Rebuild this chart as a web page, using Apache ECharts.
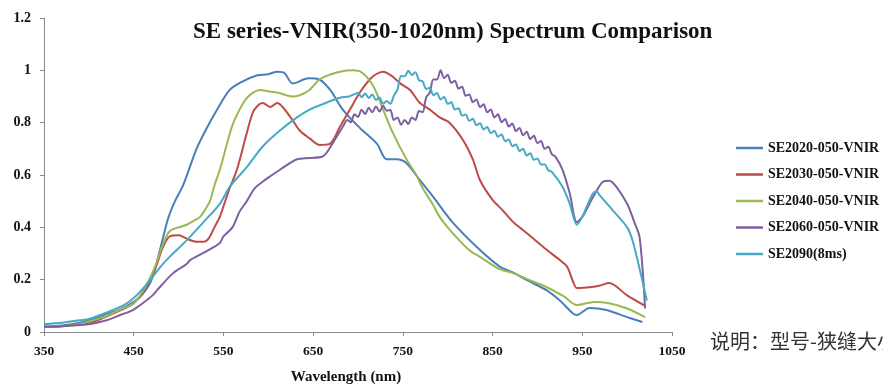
<!DOCTYPE html>
<html>
<head>
<meta charset="utf-8">
<script src="https://cdn.jsdelivr.net/npm/echarts@6/dist/echarts.min.js"></script>
<style>html,body{margin:0;padding:0;background:#fff;}#c{width:883px;height:385px;}</style>
</head>
<body>
<div id="c"></div>
<script>
const titleText = 'SE series-VNIR(350-1020nm) Spectrum Comparison';
const seriesNames = ['SE2020-050-VNIR','SE2030-050-VNIR','SE2040-050-VNIR','SE2060-050-VNIR','SE2090(8ms)'];
const xTicks = [350,450,550,650,750,850,950,1050];
const yTicks = [0,0.2,0.4,0.6,0.8,1,1.2];

const se2020 = [[350,0.02],[370,0.025],[390,0.035],[400,0.045],[410,0.055],[420,0.07],[430,0.08],[440,0.095],[450,0.115],[460,0.145],[470,0.2],[479,0.31],[488,0.43],[496,0.50],[505,0.56],[520,0.70],[530,0.77],[543,0.85],[557,0.925],[570,0.955],[587,0.98],[600,0.985],[610,0.995],[618,0.99],[627,0.95],[633,0.955],[639,0.965],[646,0.97],[657,0.965],[669,0.925],[683,0.85],[702,0.78],[721,0.72],[732,0.66],[743,0.66],[754,0.645],[769,0.58],[783,0.52],[806,0.417],[836,0.313],[858,0.25],[873,0.227],[890,0.195],[910,0.16],[925,0.12],[939,0.073],[944,0.065],[958,0.092],[977,0.084],[1000,0.057],[1017,0.038]];

const se2030 = [[350,0.02],[370,0.022],[390,0.03],[400,0.035],[410,0.045],[420,0.06],[430,0.075],[440,0.09],[450,0.11],[460,0.15],[470,0.21],[476,0.26],[482,0.32],[490,0.365],[500,0.37],[510,0.355],[520,0.345],[528,0.345],[534,0.36],[540,0.40],[546,0.44],[550,0.48],[557,0.55],[565,0.62],[576,0.76],[583,0.84],[590,0.87],[594,0.875],[602,0.86],[610,0.875],[616,0.86],[627,0.81],[635,0.77],[646,0.74],[657,0.715],[669,0.72],[680,0.785],[691,0.85],[702,0.915],[713,0.965],[720,0.985],[728,0.995],[739,0.975],[747,0.95],[758,0.925],[769,0.875],[780,0.85],[791,0.82],[802,0.80],[817,0.734],[828,0.66],[836,0.58],[850,0.505],[861,0.466],[873,0.42],[880,0.40],[891,0.37],[910,0.315],[925,0.275],[933,0.25],[940,0.19],[944,0.168],[960,0.172],[970,0.178],[980,0.187],[1000,0.14],[1020,0.10]];

const se2040 = [[350,0.02],[370,0.022],[390,0.03],[400,0.04],[410,0.05],[420,0.062],[430,0.078],[440,0.092],[450,0.11],[460,0.155],[470,0.22],[476,0.27],[482,0.33],[490,0.385],[500,0.40],[509,0.41],[517,0.425],[524,0.44],[530,0.47],[535,0.50],[540,0.56],[546,0.62],[554,0.72],[560,0.79],[568,0.85],[575,0.89],[583,0.915],[591,0.925],[600,0.92],[610,0.915],[620,0.905],[627,0.90],[635,0.905],[646,0.925],[657,0.965],[670,0.985],[680,0.995],[694,1.0],[705,0.99],[717,0.94],[728,0.85],[739,0.76],[754,0.66],[765,0.60],[772,0.55],[783,0.49],[791,0.44],[800,0.40],[813,0.35],[825,0.31],[836,0.287],[858,0.24],[873,0.225],[890,0.20],[910,0.172],[930,0.135],[944,0.103],[963,0.115],[980,0.11],[1000,0.09],[1020,0.057]];

const se2060 = [[350,0.02],[360,0.02],[380,0.025],[400,0.03],[420,0.045],[435,0.065],[449,0.084],[460,0.11],[471,0.14],[476,0.16],[494,0.225],[509,0.26],[513,0.275],[532,0.31],[546,0.34],[550,0.365],[560,0.40],[568,0.46],[576,0.50],[585,0.55],[594,0.575],[600,0.59],[613,0.62],[632,0.66],[646,0.665],[660,0.67],[665,0.685],[676,0.745],[684,0.79],
[688,0.81],[692,0.802],[696,0.832],[700,0.822],[704,0.849],[708,0.833],[712,0.857],[716,0.84],[720,0.862],[724,0.843],[728,0.865],[732,0.846],[736,0.848],[740,0.81],[744,0.82],[748,0.792],[752,0.81],[756,0.795],[760,0.82],[764,0.81],[768,0.845],[772,0.84],[776,0.897],[780,0.915],[784,0.965],[788,0.965],[792,1.0],[796,0.97],[800,0.983],[804,0.952],[808,0.96],[812,0.93],[816,0.937],[820,0.903],[824,0.908],[828,0.878],[832,0.889],[836,0.86],[840,0.87],[844,0.84],[848,0.85],[852,0.82],[856,0.832],[860,0.802],[864,0.814],[868,0.785],[872,0.797],[876,0.768],[880,0.78],[884,0.752],[888,0.765],[892,0.737],[896,0.75],[900,0.722],[904,0.73],[908,0.70],[912,0.708],[916,0.68],[920,0.67],
[928,0.62],[936,0.53],[944,0.42],[950,0.44],[958,0.49],[966,0.54],[973,0.574],[980,0.578],[988,0.555],[1000,0.49],[1008,0.42],[1014,0.36],[1020,0.09]];

const se2090 = [[350,0.03],[370,0.035],[390,0.045],[400,0.05],[420,0.075],[440,0.105],[450,0.13],[460,0.165],[471,0.21],[480,0.25],[490,0.287],[509,0.35],[527,0.417],[546,0.49],[557,0.555],[576,0.63],[594,0.71],[613,0.77],[632,0.82],[646,0.85],[660,0.87],[680,0.895],[690,0.90],
[700,0.913],[704,0.897],[708,0.911],[712,0.894],[716,0.908],[720,0.887],[724,0.896],[728,0.872],[732,0.883],[736,0.872],[740,0.903],[744,0.927],[748,0.978],[752,0.977],[756,0.998],[760,0.982],[764,0.993],[768,0.962],[772,0.958],[776,0.929],[780,0.933],[784,0.905],[788,0.913],[792,0.889],[796,0.898],[800,0.872],[804,0.878],[808,0.85],[812,0.855],[816,0.827],[820,0.831],[824,0.807],[828,0.815],[832,0.79],[836,0.798],[840,0.774],[844,0.783],[848,0.76],[852,0.769],[856,0.746],[860,0.755],[864,0.729],[868,0.736],[872,0.71],[876,0.717],[880,0.692],[884,0.70],[888,0.675],[892,0.683],[896,0.658],[900,0.663],[904,0.64],[908,0.641],[912,0.618],[916,0.612],
[928,0.555],[936,0.49],[944,0.41],[950,0.44],[955,0.48],[962,0.53],[966,0.537],[970,0.52],[984,0.465],[1000,0.40],[1006,0.35],[1014,0.24],[1022,0.12]];

const seriesData = [se2020, se2030, se2040, se2060, se2090];
const colors = ['#4a7ebb','#be4b48','#98b954','#7d60a0','#46aac5'];

const serif = '"Liberation Serif", "DejaVu Serif", serif';
const chart = echarts.init(document.getElementById('c'));
chart.setOption({
  animation: false,
  backgroundColor: '#fff',
  color: colors,
  title: {
    text: titleText,
    left: 188, top: 16,
    textStyle: { fontFamily: serif, fontWeight: 'bold', fontSize: 23, color: '#111' }
  },
  grid: { left: 44, right: 211, top: 18, bottom: 53, containLabel: false, outerBoundsMode: 'none' },
  legend: {
    orient: 'vertical',
    left: 731, top: 135,
    icon: 'rect',
    itemWidth: 27, itemHeight: 2.5,
    itemGap: 10.5,
    data: seriesNames,
    textStyle: { fontFamily: serif, fontWeight: 'bold', fontSize: 14, color: '#111', lineHeight: 16 }
  },
  xAxis: {
    type: 'value',
    min: xTicks[0], max: xTicks[xTicks.length-1], interval: 100,
    name: 'Wavelength (nm)',
    nameLocation: 'middle', nameGap: 38,
    nameTextStyle: { fontFamily: serif, fontWeight: 'bold', fontSize: 15, color: '#111', padding: [0, 24, 0, 0] },
    axisLine: { lineStyle: { color: '#8a8a8a', width: 1 } },
    axisTick: { show: true, length: 4, lineStyle: { color: '#8a8a8a' } },
    axisLabel: { margin: 13, fontFamily: serif, fontWeight: 'bold', fontSize: 13.5, color: '#111',
      formatter: v => String(v) },
    splitLine: { show: false }
  },
  yAxis: {
    type: 'value',
    min: yTicks[0], max: yTicks[yTicks.length-1], interval: 0.2,
    axisLine: { show: true, lineStyle: { color: '#8a8a8a', width: 1 } },
    axisTick: { show: true, length: 4, lineStyle: { color: '#8a8a8a' } },
    axisLabel: { margin: 13, fontFamily: serif, fontWeight: 'bold', fontSize: 14, color: '#111',
      formatter: v => String(Math.round(v*10)/10) },
    splitLine: { show: false }
  },
  series: seriesNames.map((n, i) => ({
    name: n, type: 'line', data: seriesData[i],
    showSymbol: false, smooth: 0.3,
    lineStyle: { width: 2, color: colors[i] },
    itemStyle: { color: colors[i] }
  })),
  graphic: [{
    type: 'text', left: 710, top: 331,
    style: { text: '说明：型号-狭缝大小', fontFamily: '"Noto Sans CJK SC", sans-serif', fontSize: 20, fill: '#333' }
  }]
});
</script>
</body>
</html>
